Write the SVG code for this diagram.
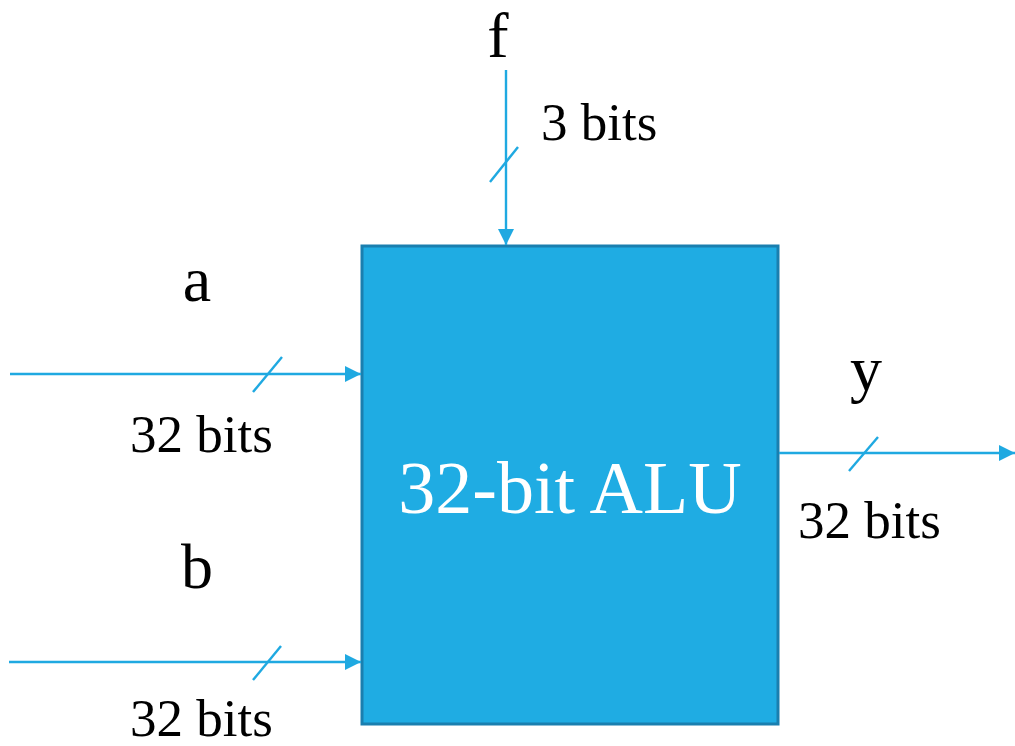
<svg xmlns="http://www.w3.org/2000/svg" width="1015" height="746" viewBox="0 0 1015 746">
<style>
.w{stroke:#1FA9E1;stroke-width:2.4;fill:none}
.t{font-family:"Liberation Serif","Times New Roman",serif;fill:#000}
.lbl{font-size:53px}
.big{font-size:64px}
</style>
<defs>
<marker id="ah" markerUnits="userSpaceOnUse" markerWidth="18" markerHeight="18" viewBox="0 0 18 18" refX="16" refY="9" orient="auto">
<path d="M0,1 L16,9 L0,17 Z" fill="#1FA9E1"/>
</marker>
</defs>
<rect width="1015" height="746" fill="#fff"/>
<g id="alu">
<rect x="362" y="246" width="416" height="478" fill="#1FACE3" stroke="#1A7FAF" stroke-width="3"/>
<text class="t" x="570" y="513" font-size="74" text-anchor="middle" style="fill:#fff">32-bit ALU</text>
</g>
<g id="connectors">
<line class="w" x1="506" y1="70" x2="506" y2="245" marker-end="url(#ah)"/>
<line class="w" x1="490" y1="182" x2="518" y2="147"/>
<line class="w" x1="10" y1="374" x2="361" y2="374" marker-end="url(#ah)"/>
<line class="w" x1="253" y1="392" x2="282" y2="357"/>
<line class="w" x1="9" y1="662" x2="361" y2="662" marker-end="url(#ah)"/>
<line class="w" x1="253" y1="680" x2="281" y2="646"/>
<line class="w" x1="779" y1="453" x2="1015" y2="453" marker-end="url(#ah)"/>
<line class="w" x1="849" y1="471" x2="878" y2="437"/>
</g>
<g id="labels">
<text class="t big" x="498" y="57" text-anchor="middle">f</text>
<text class="t lbl" x="541" y="140">3 bits</text>
<text class="t big" x="197" y="301" text-anchor="middle">a</text>
<text class="t lbl" x="130" y="452">32 bits</text>
<text class="t big" x="197" y="588" text-anchor="middle">b</text>
<text class="t lbl" x="130" y="736">32 bits</text>
<text class="t big" x="866" y="390" text-anchor="middle">y</text>
<text class="t lbl" x="798" y="538">32 bits</text>
</g>
</svg>
